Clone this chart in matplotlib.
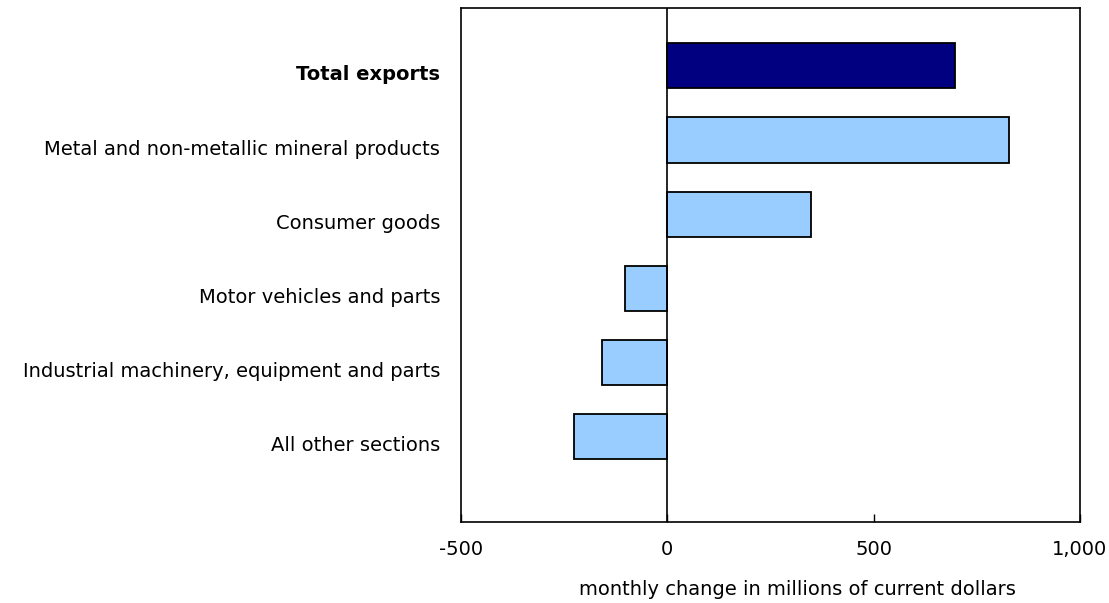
import matplotlib
matplotlib.use('Agg')
import matplotlib.pyplot as plt
import matplotlib.transforms as mtransforms

categories = [
    'Total exports',
    'Metal and non-metallic mineral products',
    'Consumer goods',
    'Motor vehicles and parts',
    'Industrial machinery, equipment and parts',
    'All other sections',
]
changes = [696, 829, 349, -102, -158, -225]
bar_colors = ['#000080', '#99CCFF', '#99CCFF', '#99CCFF', '#99CCFF', '#99CCFF']
xticks = [-500, 0, 500, 1000]
xticklabels = ['-500', '0', '500', '1,000']

plt.rcParams['font.family'] = ['DejaVu Sans']

fig = plt.figure(figsize=(11.09, 6.03), dpi=100)
ax = fig.add_axes([461 / 1109, 1 - 522 / 603, (1080 - 461) / 1109, (522 - 8) / 603])

ypos = list(range(len(categories)))
ax.barh(ypos, changes, height=0.61, color=bar_colors, edgecolor='black', linewidth=1.3, zorder=3)
ax.axvline(0, color='black', linewidth=1.2, zorder=4)

ax.set_xlim(-500, 1000)
ax.set_ylim(len(categories) - 1 + 1.15, -0.78)

ax.set_xticks(xticks)
ax.set_xticklabels(xticklabels, fontsize=14)
ax.tick_params(axis='x', direction='in', length=6, width=1, pad=13)
ax.set_yticks(ypos)
ax.set_yticklabels(categories, fontsize=14)
ax.tick_params(axis='y', length=0, pad=15)
ax.get_yticklabels()[0].set_fontweight('bold')

# labels sit a bit below the bar centres in the original
shift = mtransforms.ScaledTranslation(0, -7 / 100, fig.dpi_scale_trans)
for lab in ax.get_yticklabels():
    lab.set_transform(lab.get_transform() + shift)

for s in ax.spines.values():
    s.set_linewidth(1.2)

ax.set_xlabel('monthly change in millions of current dollars', fontsize=14)
ax.xaxis.set_label_coords(0.544, -0.113)

fig.savefig('out.png', dpi=100)
